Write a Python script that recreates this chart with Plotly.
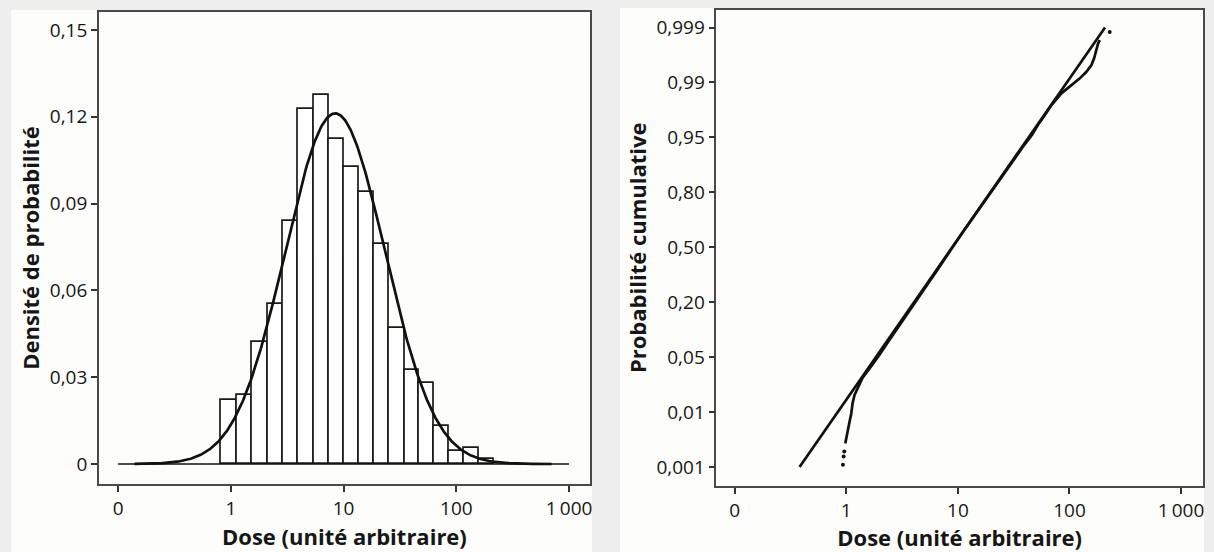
import numpy as np
import plotly.graph_objects as go

# ---------------- data ----------------
# Left panel: histogram (relative frequency per log-bin) of doses
bin_edges = [0.822, 1.13, 1.54, 2.11, 2.90, 3.95, 5.43, 7.46, 10.1, 13.7,
             18.7, 25.4, 34.6, 46.7, 63.1, 85.9, 116, 157, 213]
bin_heights = [0.0220, 0.0238, 0.0421, 0.0552, 0.0839, 0.1226, 0.1277, 0.1125,
               0.1028, 0.0939, 0.0759, 0.0471, 0.0325, 0.0280, 0.0133, 0.0045,
               0.0054, 0.0018]

# fitted log-normal density (in log10 units of dose)
fit_log_mean = 0.925
fit_log_sd = 0.442
fit_peak = 0.1212
fit_dose_min, fit_dose_max = 0.14, 700
baseline_dose = [0.1, 1000]
baseline_val = [0, 0]

dose_tickvals = [0.1, 1, 10, 100, 1000]
dose_ticktext = ["0", "1", "10", "100", "1\u2009000"]
dens_tickvals = [0, 0.03, 0.06, 0.09, 0.12, 0.15]
dens_ticktext = ["0", "0,03", "0,06", "0,09", "0,12", "0,15"]

# Right panel: cumulative probability plot (y in tick-position units)
prob_ticktext = ["0,001", "0,01", "0,05", "0,20", "0,50", "0,80", "0,95", "0,99", "0,999"]
prob_tickpos = [0, 1, 2, 3, 4, 5, 6, 7, 8]

fitline_dose = [0.381, 208.4]
fitline_pos = [0, 8]

emp_tail_dose = [0.933, 0.946, 0.959, 229.6]
emp_tail_pos = [0.04, 0.19, 0.28, 7.92]

emp_dose = [0.979, 1.012, 1.064, 1.109, 1.138, 1.186, 1.288, 1.396, 1.622, 1.950,
            2.317, 2.754, 3.311, 3.890, 4.519, 5.370, 6.457, 7.674, 9.120, 10.84,
            13.03, 15.67, 18.62, 22.39, 26.61, 31.62, 38.02, 46.24, 53.09, 60.26,
            69.02, 84.72, 104.3, 123.9, 141.9, 157.4, 166.3, 171.0, 177.8, 180.7,
            187.1]
emp_pos = [0.43, 0.61, 0.80, 0.98, 1.16, 1.31, 1.46, 1.62, 1.80, 2.02,
           2.25, 2.47, 2.70, 2.90, 3.10, 3.33, 3.57, 3.80, 4.02, 4.25,
           4.48, 4.71, 4.93, 5.16, 5.38, 5.60, 5.82, 6.05, 6.25, 6.407,
           6.589, 6.802, 6.953, 7.075, 7.195, 7.317, 7.439, 7.530, 7.621, 7.712,
           7.772]

# ---------------- figure ----------------
W, H = 1214, 552
FONT = "Open Sans"
TXT = "#161616"
BLACK = "#111111"

edges = np.array(bin_edges)
centers = (edges[:-1] + edges[1:]) / 2
widths = edges[1:] - edges[:-1]

lx = np.linspace(np.log10(fit_dose_min), np.log10(fit_dose_max), 500)
curve_x = 10 ** lx
curve_y = fit_peak * np.exp(-0.5 * ((lx - fit_log_mean) / fit_log_sd) ** 2)

fig = go.Figure()
fig.add_trace(go.Scatter(x=baseline_dose, y=baseline_val, mode="lines",
                         line=dict(color=BLACK, width=1.7), xaxis="x", yaxis="y",
                         hoverinfo="skip"))
fig.add_trace(go.Bar(x=centers, y=bin_heights, width=widths,
                     marker=dict(color="rgba(255,255,255,1)",
                                 line=dict(color="#1a1a1a", width=1.7)),
                     xaxis="x", yaxis="y"))
fig.add_trace(go.Scatter(x=curve_x, y=curve_y, mode="lines",
                         line=dict(color=BLACK, width=2.7), xaxis="x", yaxis="y"))

fig.add_trace(go.Scatter(x=fitline_dose, y=fitline_pos, mode="lines",
                         line=dict(color=BLACK, width=2.7), xaxis="x2", yaxis="y2"))
fig.add_trace(go.Scatter(x=emp_dose, y=emp_pos, mode="lines",
                         line=dict(color=BLACK, width=2.7), xaxis="x2", yaxis="y2"))
fig.add_trace(go.Scatter(x=emp_tail_dose, y=emp_tail_pos, mode="markers",
                         marker=dict(color=BLACK, size=4), xaxis="x2", yaxis="y2"))


def px_x(p):
    return p / W


def px_y(p):
    return 1 - p / H


tickfont = dict(family=FONT, size=19, color=TXT)
titlefont = dict(family=FONT, size=22, color=TXT, weight="bold")
axcommon = dict(showgrid=False, zeroline=False, showline=True, mirror=True,
                linecolor="#4a4a4a", linewidth=1.5, ticks="outside", ticklen=6,
                tickwidth=1.5, tickcolor="#333333", tickfont=tickfont)

fig.update_layout(
    width=W, height=H,
    margin=dict(l=0, r=0, t=0, b=0),
    paper_bgcolor="#eeeeee",
    plot_bgcolor="#ffffff",
    showlegend=False,
    bargap=0,
    xaxis=dict(type="log", domain=[px_x(99), px_x(591)], range=[-1.171, 3.186],
               tickvals=dose_tickvals, ticktext=dose_ticktext, anchor="y",
               title=dict(text="Dose (unité arbitraire)", font=titlefont, standoff=5),
               **axcommon),
    yaxis=dict(domain=[px_y(484), px_y(12)], range=[-0.00691, 0.15624],
               tickvals=dens_tickvals, ticktext=dens_ticktext, anchor="x",
               title=dict(text="Densité de probabilité", font=titlefont, standoff=4),
               **axcommon),
    xaxis2=dict(type="log", domain=[px_x(717.5), px_x(1205)], range=[-1.165, 3.197],
                tickvals=dose_tickvals, ticktext=dose_ticktext, anchor="y2",
                title=dict(text="Dose (unité arbitraire)", font=titlefont, standoff=5),
                **axcommon),
    yaxis2=dict(domain=[px_y(486), px_y(9.5)], range=[-0.346, 8.328],
                tickvals=prob_tickpos, ticktext=prob_ticktext, anchor="x2",
                title=dict(text="Probabilité cumulative", font=titlefont, standoff=4),
                **axcommon),
    shapes=[
        dict(type="rect", xref="paper", yref="paper", layer="below",
             x0=px_x(11), x1=px_x(593), y0=0, y1=px_y(10),
             fillcolor="#fdfdfb", line=dict(width=0)),
        dict(type="rect", xref="paper", yref="paper", layer="below",
             x0=px_x(621), x1=px_x(1206), y0=0, y1=px_y(8),
             fillcolor="#fdfdfb", line=dict(width=0)),
    ],
)

fig.write_html("out.html")
